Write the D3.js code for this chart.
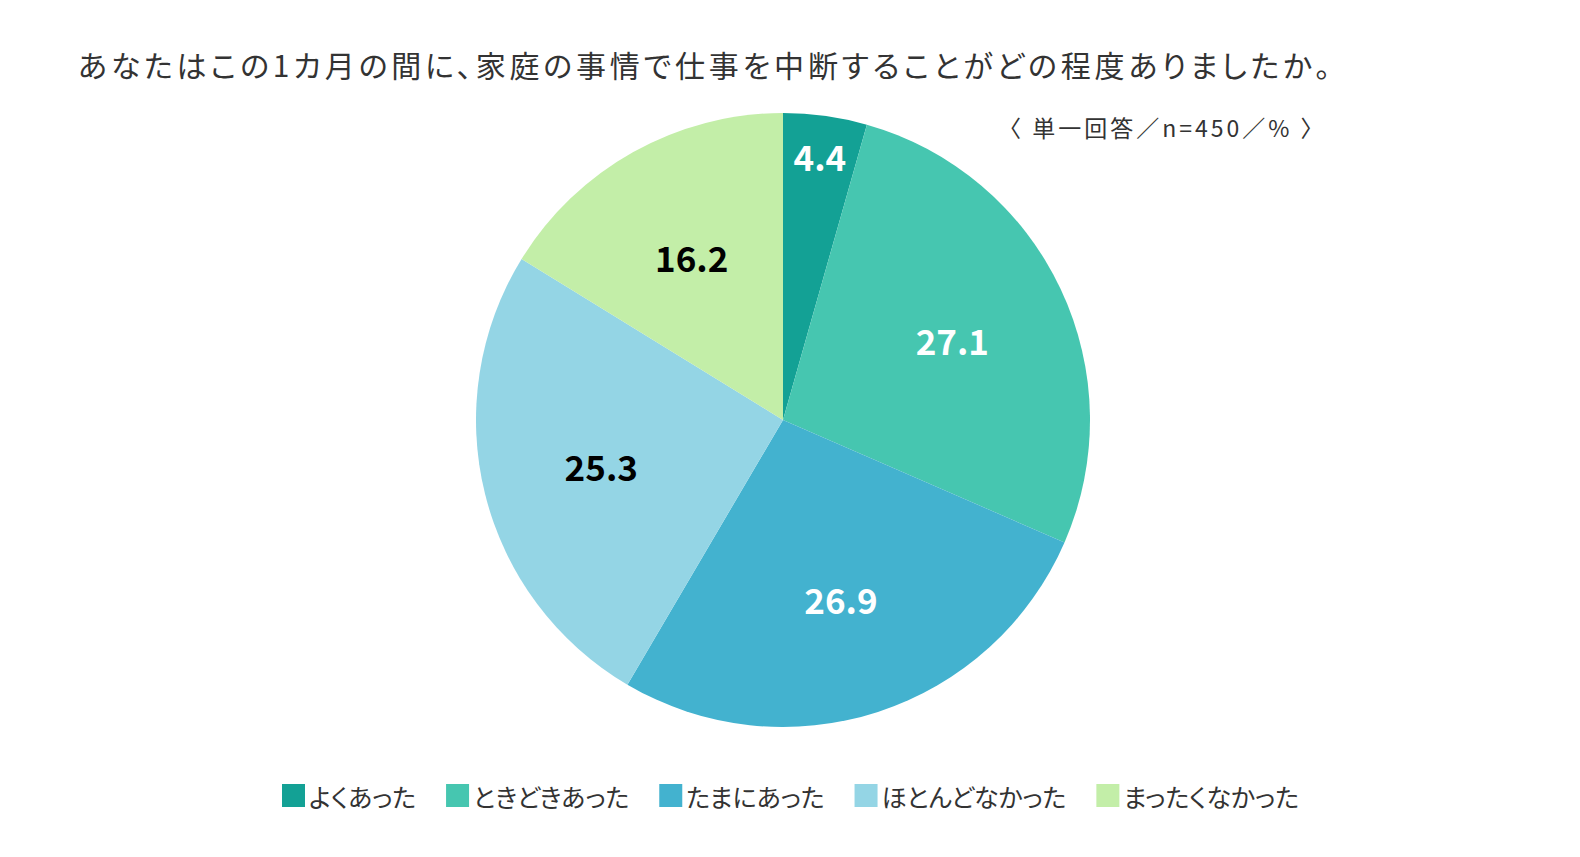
<!DOCTYPE html>
<html>
<head>
<meta charset="utf-8">
<script src="https://cdn.jsdelivr.net/npm/d3@7"></script>
<style>
  body { margin: 0; background: #fff; }
  text { font-family: "Noto Sans CJK JP", "Noto Sans", sans-serif; }
  .palt { font-feature-settings: "palt"; }
</style>
</head>
<body>
<svg width="1580" height="857"></svg>
<script>
// data
const categories = ["よくあった", "ときどきあった", "たまにあった", "ほとんどなかった", "まったくなかった"];
const values = [4.4, 27.1, 26.9, 25.3, 16.2];
const colors = ["#13a195", "#46c6b0", "#43b2cf", "#94d5e5", "#c3eea8"];
const labelColors = ["#fff", "#fff", "#fff", "#000", "#000"];
const title = "あなたはこの1カ月の間に、家庭の事情で仕事を中断することがどの程度ありましたか。";
const note = "〈 単一回答／n=450／% 〉";

var svg = d3.select("svg");

// title, spread out to the reference width
var tt = svg.append("text")
   .attr("class", "palt")
   .attr("x", 78).attr("y", 77)
   .attr("font-size", 30)
   .attr("fill", "#333")
   .text(title);
var tw = tt.node().getComputedTextLength();
tt.attr("letter-spacing", (1256 - tw) / title.length);

svg.append("text")
   .attr("x", 998).attr("y", 137)
   .attr("font-size", 23)
   .attr("letter-spacing", 3)
   .attr("fill", "#333")
   .text(note);

var cx = 783, cy = 420, r = 307;
var total = d3.sum(values);

var pie = d3.pie().sort(null).value(d => d);
var arcs = pie(values);
var arc = d3.arc().innerRadius(0).outerRadius(r);

var g = svg.append("g").attr("transform", "translate(" + cx + "," + cy + ")");

g.selectAll("path")
 .data(arcs)
 .enter().append("path")
 .attr("d", arc)
 .attr("fill", (d, i) => colors[i]);

// small slices get their label pushed outwards
g.selectAll("text.lbl")
 .data(arcs)
 .enter().append("text")
 .attr("class", "lbl")
 .attr("transform", function(d) {
     var lr = (d.data / total < 0.06) ? r * 0.87 : r * 0.61;
     var c = d3.arc().innerRadius(lr).outerRadius(lr).centroid(d);
     return "translate(" + c[0] + "," + c[1] + ")";
 })
 .attr("text-anchor", "middle")
 .attr("dominant-baseline", "central")
 .attr("font-size", 35)
 .attr("font-weight", "bold")
 .attr("fill", (d, i) => labelColors[i])
 .text(d => d.data.toFixed(1));

// legend
var legend = svg.append("g").attr("transform", "translate(0,795)");
var lx = 282;
categories.forEach(function(c, i) {
    var item = legend.append("g").attr("transform", "translate(" + lx + ",0)");
    item.append("rect")
        .attr("x", 0).attr("y", -11)
        .attr("width", 23).attr("height", 23)
        .attr("fill", colors[i]);
    var t = item.append("text")
        .attr("class", "palt")
        .attr("x", 27).attr("y", 1)
        .attr("dominant-baseline", "central")
        .attr("font-size", 25)
        .attr("fill", "#333")
        .text(c);
    lx += 27 + t.node().getComputedTextLength() + 30;
});
</script>
</body>
</html>
